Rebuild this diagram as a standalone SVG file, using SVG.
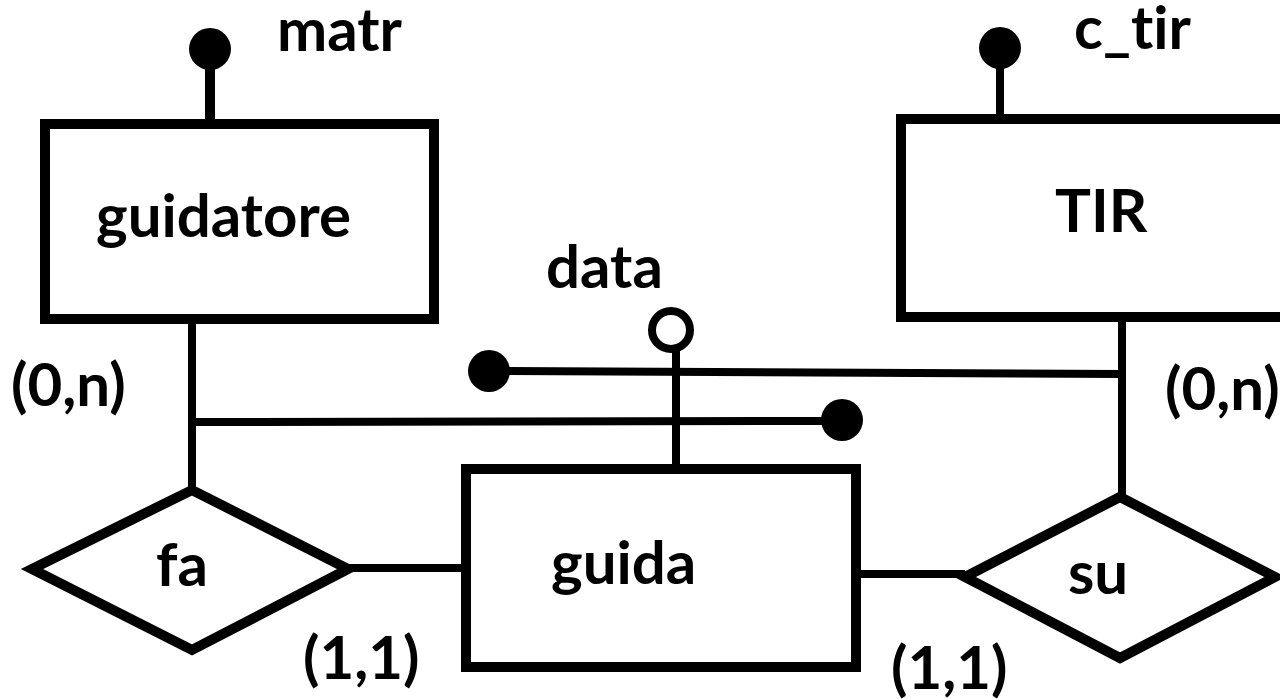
<svg xmlns="http://www.w3.org/2000/svg" width="1280" height="699" viewBox="0 0 1280 699">
<style>
.ent{fill:#fff;stroke:#000;stroke-width:10}
.rel{fill:#fff;stroke:#000;stroke-width:10;stroke-linejoin:miter}
.ln{stroke:#000;stroke-width:8;fill:none}
.dot{fill:#000}
.t{font-family:Lato,"Open Sans","Liberation Sans",sans-serif;font-weight:700;font-size:60px;fill:#000;font-variant-ligatures:none;font-feature-settings:"liga" 0}
</style>
<rect width="1280" height="699" fill="#fff"/>
<g id="connectors">
<line class="ln" x1="192" y1="324" x2="192" y2="490"/>
<line class="ln" x1="192" y1="422" x2="842" y2="421"/>
<circle class="dot" cx="842" cy="420" r="21"/>
<line class="ln" x1="489" y1="371" x2="1122" y2="374"/>
<circle class="dot" cx="489" cy="371" r="21"/>
<line class="ln" x1="1122" y1="322" x2="1122" y2="497"/>
<line class="ln" x1="348" y1="568" x2="466" y2="568"/>
<line class="ln" x1="856" y1="574" x2="965" y2="574"/>
<line class="ln" x1="676" y1="349" x2="676" y2="464"/>
<circle cx="671" cy="330" r="19" fill="#fff" stroke="#000" stroke-width="8"/>
<line stroke="#000" stroke-width="10" x1="210" y1="49" x2="210" y2="119"/>
<circle class="dot" cx="210" cy="49" r="21"/>
<line class="ln" x1="1000" y1="48" x2="1000" y2="114"/>
<circle class="dot" cx="1000" cy="48" r="21"/>
</g>
<g id="guidatore">
<rect class="ent" x="45" y="124" width="389" height="195"/>
<text class="t" x="96" y="237">guidatore</text>
</g>
<g id="matr"><text class="t" x="277" y="51">matr</text></g>
<g id="TIR">
<rect class="ent" x="901" y="119" width="420" height="198"/>
<text class="t" x="1055" y="232">TIR</text>
</g>
<g id="c_tir"><text class="t" x="1074" y="49">c_tir</text></g>
<g id="guida">
<rect class="ent" x="466" y="469" width="390" height="198"/>
<text class="t" x="551" y="584">guida</text>
</g>
<g id="data"><text class="t" x="546" y="288">data</text></g>
<g id="fa">
<polygon class="rel" points="32,569 192,490 348,569 192,650"/>
<text class="t" x="156" y="586">fa</text>
</g>
<g id="su">
<polygon class="rel" points="965,577 1120,497 1275,577 1120,658"/>
<text class="t" x="1068" y="594">su</text>
</g>
<g id="cardinalities">
<text class="t" x="11" y="406">(0,n)</text>
<text class="t" x="1165" y="410">(0,n)</text>
<text class="t" x="303" y="679">(1,1)</text>
<text class="t" x="891" y="689">(1,1)</text>
</g>
</svg>
